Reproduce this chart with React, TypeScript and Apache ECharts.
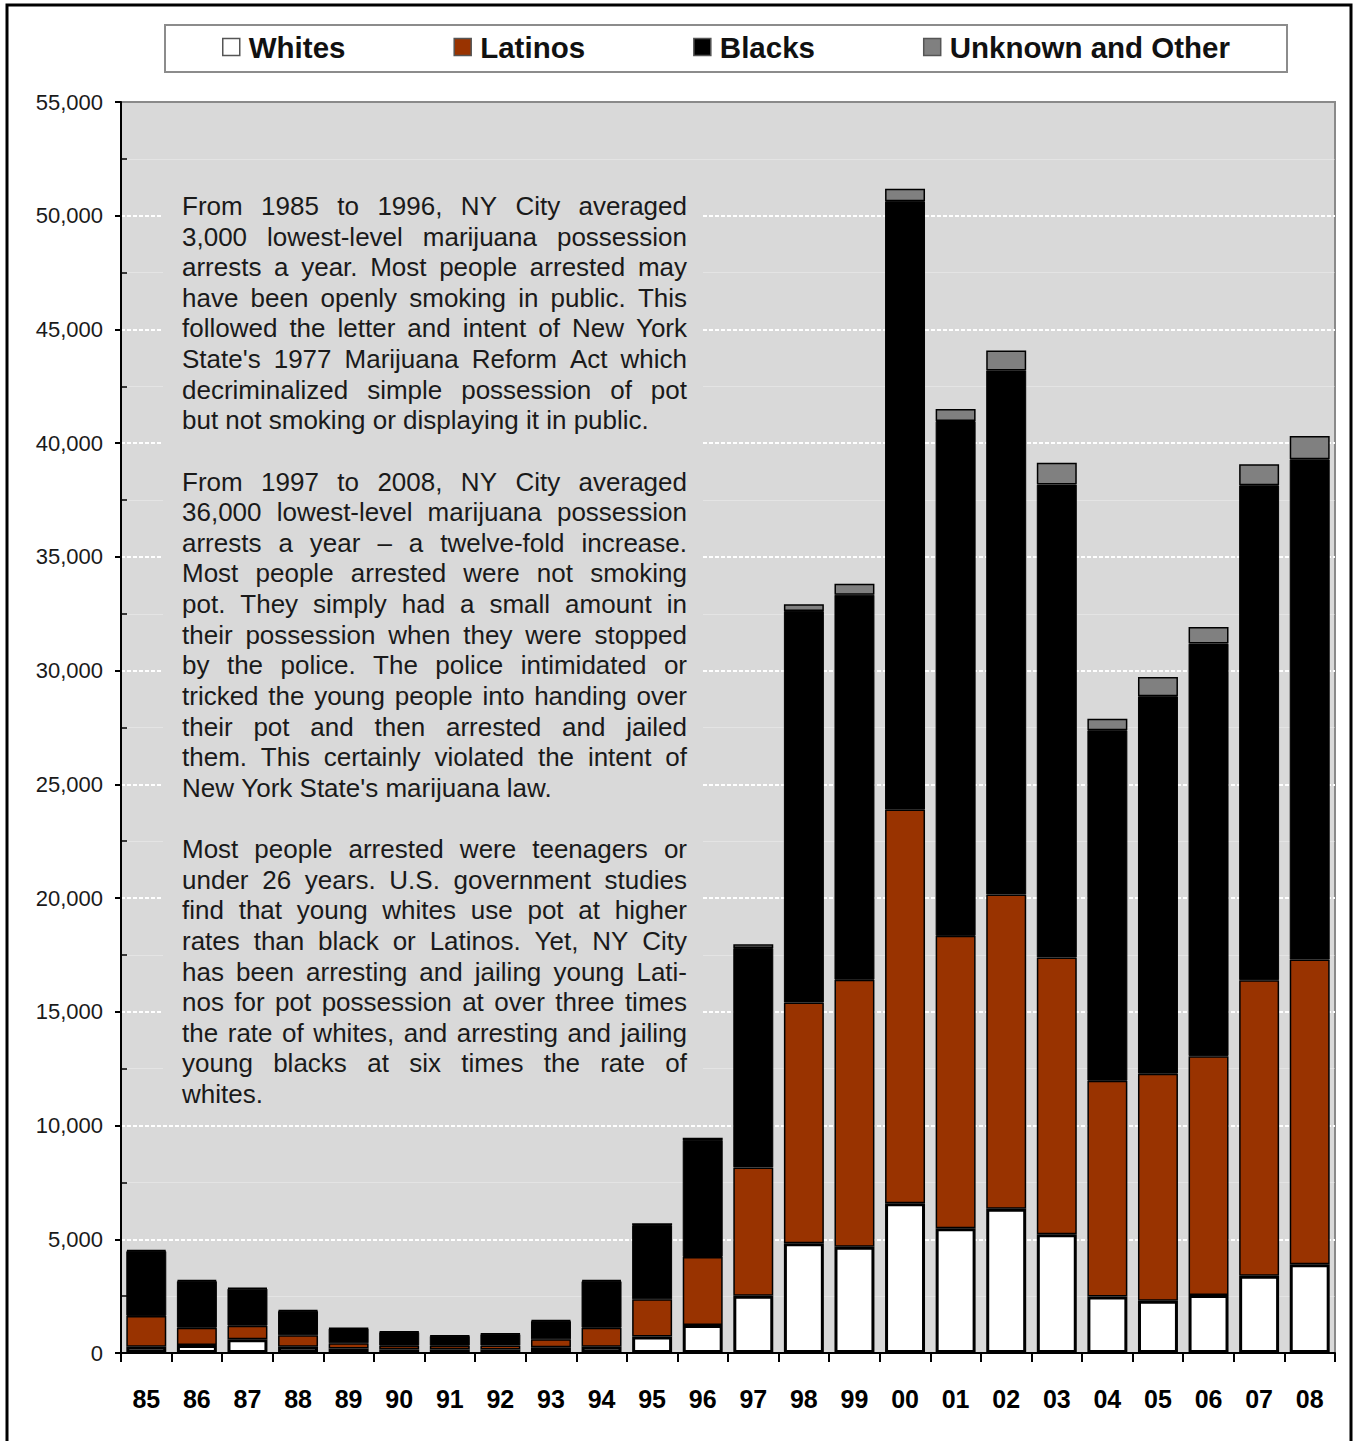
import React, { useEffect, useRef } from "react";
import * as echarts from "echarts";

const FONT = '"Liberation Sans", Arial, Helvetica, sans-serif';

const YEARS = ["85","86","87","88","89","90","91","92","93","94","95","96","97","98","99","00","01","02","03","04","05","06","07","08"];

const WHITES = [280, 350, 600, 280, 200, 150, 150, 150, 250, 280, 720, 1230, 2520, 4820, 4670, 6580, 5480, 6340, 5220, 2480, 2300, 2550, 3400, 3900];
const LATINOS = [1350, 760, 600, 500, 225, 170, 170, 180, 350, 830, 1640, 2990, 5640, 10590, 11740, 17310, 12860, 13820, 12170, 9490, 9980, 10500, 12990, 13400];
const BLACKS = [2850, 2050, 1630, 1070, 650, 600, 430, 500, 810, 2050, 3270, 5150, 9650, 17215, 16930, 26750, 22635, 23040, 20790, 15410, 16595, 18140, 21760, 21990];
const UNKNOWN = [50, 50, 40, 40, 25, 30, 27, 25, 40, 50, 70, 90, 160, 290, 485, 545, 530, 880, 965, 510, 850, 730, 925, 1025];

const SERIES_NAMES = ["Whites", "Latinos", "Blacks", "Unknown and Other"];
const SERIES_COLORS = ["#ffffff", "#993300", "#000000", "#808080"];

const Y_MIN = 0;
const Y_MAX = 55000;
const Y_STEP = 5000;

const PARA1 = [
  "From 1985 to 1996, NY City averaged",
  "3,000 lowest-level marijuana possession",
  "arrests a year. Most people arrested may",
  "have been openly smoking in public. This",
  "followed the letter and intent of New York",
  "State's 1977 Marijuana Reform Act which",
  "decriminalized simple possession of pot",
  "but not smoking or displaying it in public.",
];
const PARA2 = [
  "From 1997 to 2008, NY City averaged",
  "36,000 lowest-level marijuana possession",
  "arrests a year \u2013 a twelve-fold increase.",
  "Most people arrested were not smoking",
  "pot. They simply had a small amount in",
  "their possession when they were stopped",
  "by the police. The police intimidated or",
  "tricked the young people into handing over",
  "their pot and then arrested and jailed",
  "them. This certainly violated the intent of",
  "New York State's marijuana law.",
];
const PARA3 = [
  "Most people arrested were teenagers or",
  "under 26 years.  U.S. government studies",
  "find that young whites use pot at higher",
  "rates than black or Latinos. Yet, NY City",
  "has been arresting and jailing young Lati-",
  "nos for pot possession at over three times",
  "the rate of whites, and arresting and jailing",
  "young blacks at six times the rate of",
  "whites.",
];

const BG = "#d9d9d9";
const TEXT_X = 182;
const TEXT_W = 505;
const TEXT_Y0 = 206;
const PITCH = 30.62;

function buildTextElements(): any[] {
  const canvas = document.createElement("canvas");
  const ctx = canvas.getContext("2d")!;
  ctx.font = `100px ${FONT}`;
  const spaceW = ctx.measureText(" ").width / 100;
  const paras = [PARA1, PARA2, PARA3];
  type L = { words: string[]; widths: number[]; justify: boolean; idx: number };
  const lines: L[] = [];
  let idx = 0;
  paras.forEach((p, pi) => {
    p.forEach((line, li) => {
      const words = line.split(" ").filter((w) => w.length > 0);
      const widths = words.map((w) => ctx.measureText(w).width / 100);
      lines.push({ words, widths, justify: li < p.length - 1, idx });
      idx++;
    });
    if (pi < paras.length - 1) idx++;
  });
  let maxRatio = 0;
  lines.forEach((l) => {
    const w = l.widths.reduce((a, b) => a + b, 0) + spaceW * (l.words.length - 1);
    if (w > maxRatio) maxRatio = w;
  });
  const fontSize = Math.min(26, (TEXT_W / maxRatio) * 0.995);
  const els: any[] = [];
  lines.forEach((l) => {
    const y = TEXT_Y0 + l.idx * PITCH;
    const sum = l.widths.reduce((a, b) => a + b, 0) * fontSize;
    const gap = l.justify && l.words.length > 1
      ? (TEXT_W - sum) / (l.words.length - 1)
      : spaceW * fontSize;
    let x = TEXT_X;
    l.words.forEach((w, i) => {
      els.push({
        type: "text",
        x,
        y,
        z: 5,
        silent: true,
        style: {
          text: w,
          fontSize,
          fontFamily: FONT,
          fill: "#1a1a1a",
          align: "left",
          verticalAlign: "middle",
        },
      });
      x += l.widths[i] * fontSize + gap;
    });
  });
  return els;
}

export default function App() {
  const ref = useRef<HTMLDivElement>(null);
  useEffect(() => {
    if (!ref.current) return;
    const chart = echarts.init(ref.current, null, { renderer: "svg" });
    const data = [WHITES, LATINOS, BLACKS, UNKNOWN];
    const borderWidths = [3, 1.5, 1, 1.5];
    const option: any = {
      animation: false,
      backgroundColor: "#ffffff",
      grid: {
        left: 121,
        top: 102,
        right: 21,
        bottom: 88,
        show: true,
        backgroundColor: BG,
        borderColor: "#8a8a8a",
        borderWidth: 2,
        containLabel: false,
        outerBoundsMode: "none",
      },
      legend: {
        left: 222,
        top: 32,
        padding: 0,
        itemWidth: 17,
        itemHeight: 17,
        itemGap: 108,
        icon: "rect",
        selectedMode: false,
        textStyle: { fontSize: 29.5, fontWeight: "bold", color: "#111", fontFamily: FONT, padding: [0, 0, 0, 4] },
        itemStyle: { borderColor: "#555", borderWidth: 1.5 },
        data: SERIES_NAMES,
      },
      xAxis: {
        type: "category",
        data: YEARS,
        boundaryGap: true,
        axisLine: { show: true, lineStyle: { color: "#000", width: 2 } },
        axisTick: { show: true, alignWithLabel: false, length: 9, lineStyle: { color: "#000", width: 2 } },
        axisLabel: { fontSize: 25, fontWeight: "bold", color: "#000", margin: 33, fontFamily: FONT, interval: 0 },
        splitLine: { show: false },
      },
      yAxis: {
        type: "value",
        min: Y_MIN,
        max: Y_MAX,
        interval: Y_STEP,
        axisLine: { show: true, lineStyle: { color: "#000", width: 2 } },
        axisTick: { show: true, length: 6, lineStyle: { color: "#000", width: 2 } },
        minorTick: { show: true, splitNumber: 2, length: -6, lineStyle: { color: "#000", width: 1.5 } },
        axisLabel: {
          fontSize: 22,
          color: "#1a1a1a",
          margin: 18,
          fontFamily: FONT,
          formatter: (v: number) => v.toLocaleString("en-US"),
        },
        splitLine: { show: true, showMinLine: false, showMaxLine: false, lineStyle: { color: "#ffffff", width: 2, type: [4, 2] } },
        minorSplitLine: { show: true, lineStyle: { color: "rgba(255,255,255,0.3)", width: 1 } },
      },
      series: SERIES_NAMES.map((name, i) => ({
        name,
        type: "bar",
        stack: "total",
        barCategoryGap: "21%",
        data: data[i],
        itemStyle: { color: SERIES_COLORS[i], borderColor: "#000", borderWidth: borderWidths[i] },
        emphasis: { disabled: true },
      })),
      graphic: [
        {
          type: "rect",
          z: 0,
          silent: true,
          shape: { x: 7, y: 5, width: 1344, height: 1460 },
          style: { fill: "none", stroke: "#000", lineWidth: 3 },
        },
        {
          type: "rect",
          z: 1,
          silent: true,
          shape: { x: 165, y: 25, width: 1122, height: 47 },
          style: { fill: "#ffffff", stroke: "#8c8c8c", lineWidth: 2 },
        },
        {
          type: "rect",
          z: 1,
          silent: true,
          shape: { x: 163, y: 185, width: 540, height: 930 },
          style: { fill: BG, stroke: "none" },
        },
        ...buildTextElements(),
      ],
    };
    chart.setOption(option);
    return () => chart.dispose();
  }, []);
  return (
    <div
      ref={ref}
      style={{ position: "absolute", left: 0, top: 0, width: 1356, height: 1441, background: "#fff" }}
    />
  );
}
